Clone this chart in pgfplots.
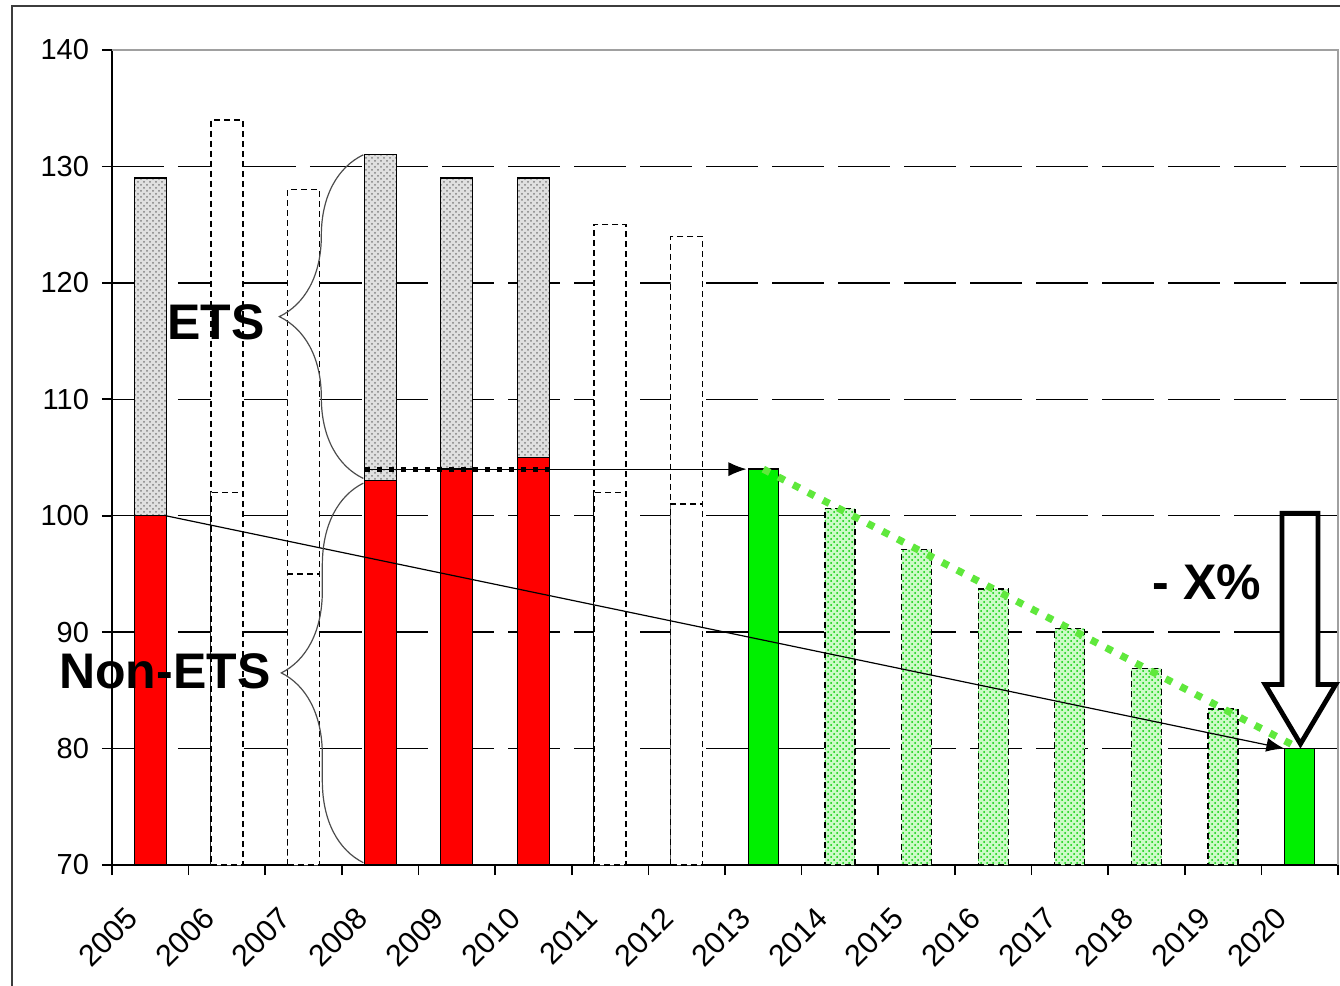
\documentclass[border=0pt]{standalone}
\usepackage{fontspec}
\setmainfont{Liberation Sans}
\usepackage{pgfplots}
\pgfplotsset{compat=1.18}
\usetikzlibrary{patterns,decorations.pathreplacing,arrows.meta}
\definecolor{barred}{RGB}{255,0,0}
\definecolor{bargreen}{RGB}{0,240,0}
\definecolor{lightgreen}{RGB}{205,250,200}
\definecolor{dotgreen}{RGB}{95,232,60}
\definecolor{framegray}{RGB}{60,60,60}
\definecolor{boxgray}{RGB}{160,160,160}
\begin{document}
\begin{tikzpicture}
\useasboundingbox (-56pt,-60.5pt) rectangle (614pt,432.5pt);
\draw[framegray, line width=1pt] (-50pt,-80pt) -- (-50pt,429.5pt) -- (640pt,429.5pt);
\begin{axis}[
  at={(0,0)}, anchor=south west,
  scale only axis, width=613pt, height=407.5pt,
  xmin=0, xmax=16, ymin=70, ymax=140,
  axis x line*=bottom, axis y line*=left,
  axis line style={black, line width=0.8pt},
  ytick={70,80,...,140},
  xtick={0,1,...,16}, xticklabels={},
  tick align=outside, major tick length=5pt,
  tick style={black, line width=0.8pt},
  extra x ticks={0.5,1.5,2.5,3.5,4.5,5.5,6.5,7.5,8.5,9.5,10.5,11.5,12.5,13.5,14.5,15.5},
  extra x tick labels={2005,2006,2007,2008,2009,2010,2011,2012,2013,2014,2015,2016,2017,2018,2019,2020},
  extra x tick style={major tick length=0pt, tick label style={font=\fontsize{15.2}{17}\selectfont, xshift=-9pt, yshift=-24pt, rotate=45, anchor=east, inner sep=0pt}},
  extra y ticks={80,90,100,110,120,130}, extra y tick labels={},
  extra y tick style={grid=major, major tick length=0pt},
  grid style={black, line width=0.75pt, dash pattern=on 26pt off 7pt},
  tick label style={font=\fontsize{14.5}{17}\selectfont},
  yticklabel style={xshift=-3pt},
  /pgf/number format/assume math mode=true,
  clip mode=individual,
]
% plot area top and right border
\draw[boxgray, line width=0.8pt] (rel axis cs:0,1) -- (rel axis cs:1,1) -- (rel axis cs:1,0);

% ETS total (grey)
\addplot[ybar, bar shift=0pt, bar width=16pt, draw=black, line width=0.65pt, fill=black!12,
  postaction={pattern=crosshatch dots, pattern color=black!50}]
  coordinates {(0.5,129) (3.5,131) (4.5,129) (5.5,129)};
% Non-ETS (red)
\addplot[ybar, bar shift=0pt, bar width=16pt, draw=black, line width=0.65pt, fill=barred]
  coordinates {(0.5,100) (3.5,103) (4.5,104) (5.5,105)};
% dashed open bars: total
\addplot[ybar, bar shift=0pt, bar width=16pt, draw=black, line width=0.65pt, fill=white,
  dash pattern=on 3pt off 2pt]
  coordinates {(1.5,134) (2.5,128) (6.5,125) (7.5,124)};
% dashed open bars: split
\addplot[ybar, bar shift=0pt, bar width=16pt, draw=black, line width=0.65pt, fill=white,
  dash pattern=on 3pt off 2pt]
  coordinates {(1.5,102) (2.5,95) (6.5,102) (7.5,101)};
% green (2013, 2020)
\addplot[ybar, bar shift=0pt, bar width=15pt, draw=black, line width=0.65pt, fill=bargreen]
  coordinates {(8.5,104) (15.5,80)};
% light green path 2014-2019
\addplot[ybar, bar shift=0pt, bar width=15pt, draw=black, line width=0.65pt, fill=lightgreen,
  dash pattern=on 3pt off 2pt,
  postaction={pattern=crosshatch dots, pattern color=green!80!black}]
  coordinates {(9.5,100.6) (10.5,97.1) (11.5,93.7) (12.5,90.3) (13.5,86.9) (14.5,83.4)};

% linear trend 2005 -> 2020
\addplot[sharp plot, no markers, black, line width=0.6pt, -{Latex[length=9pt,width=7pt]}]
  coordinates {(0.70,100) (15.30,80)};
% 2008-2010 level carried to 2013
\addplot[sharp plot, no markers, black, line width=0.6pt, -{Latex[length=9pt,width=7pt]}]
  coordinates {(3.30,104) (8.28,104)};
\addplot[sharp plot, no markers, black, line width=2.6pt, dash pattern=on 2.6pt off 3.4pt]
  coordinates {(3.30,104) (5.72,104)};
% green dotted path 2013 -> 2020
\addplot[sharp plot, no markers, dotgreen, line width=3.6pt, dash pattern=on 3.6pt off 4.8pt]
  coordinates {(8.50,104) (15.50,80)};

% braces
\draw[black!70, line width=0.6pt, decorate, decoration={brace, amplitude=42pt}]
  (axis cs:3.28,103.2) -- (axis cs:3.28,131);
\draw[black!70, line width=0.6pt, decorate, decoration={brace, amplitude=41pt}]
  (axis cs:3.28,70.2) -- (axis cs:3.28,102.8);

% big hollow arrow
\draw[black, line width=2.4pt, fill=white, line join=miter]
  (axis cs:15.27,100.2) -- (axis cs:15.74,100.2) -- (axis cs:15.74,85.5) -- (axis cs:15.97,85.5)
  -- (axis cs:15.51,80.4) -- (axis cs:15.05,85.5) -- (axis cs:15.27,85.5) -- cycle;

% labels
\node[font=\fontsize{25}{28}\selectfont\bfseries] at (axis cs:1.36,116.6) {ETS};
\node[font=\fontsize{25}{28}\selectfont\bfseries] at (axis cs:0.69,86.6) {Non-ETS};
\node[font=\fontsize{25}{28}\selectfont\bfseries] at (axis cs:14.29,94.3) {- X\%};
\end{axis}
\end{tikzpicture}
\end{document}
